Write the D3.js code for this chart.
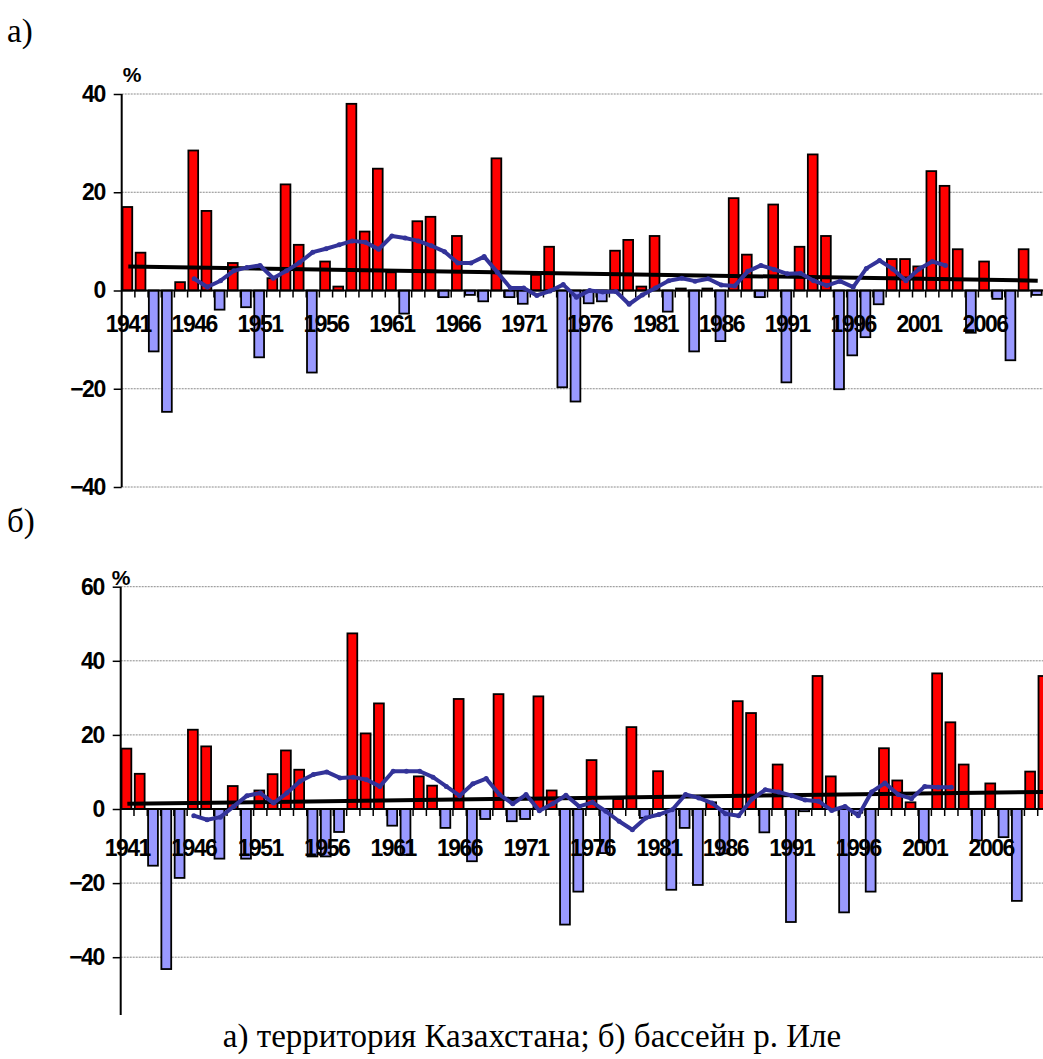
<!DOCTYPE html>
<html>
<head>
<meta charset="utf-8">
<script src="https://cdn.jsdelivr.net/npm/d3@7"></script>
<style>
	body { margin: 0; background: #fff; }
	svg { display: block; }
	text { font-family: "Liberation Sans", Arial, sans-serif; }
</style>
</head>
<body>
<script>
// years on the category axis
let years = d3.range(1941, 2011)
let yearLabels = [1941, 1946, 1951, 1956, 1961, 1966, 1971, 1976, 1981, 1986, 1991, 1996, 2001, 2006]

// а) территория Казахстана, anomaly %
let kazAnom = [17.0, 7.7, -12.4, -24.7, 1.7, 28.5, 16.2, -3.9, 5.6, -3.4,
	-13.6, 2.5, 21.6, 9.3, -16.7, 5.9, 0.8, 38.0, 12.0, 24.8,
	3.7, -4.7, 14.1, 15.0, -1.35, 11.1, -0.9, -2.2, 26.9, -1.35,
	-2.7, 3.2, 8.9, -19.7, -22.6, -2.6, -2.2, 8.1, 10.3, 0.8,
	11.1, -4.3, 0.4, -12.4, 0.4, -10.3, 18.8, 7.3, -1.35, 17.5,
	-18.7, 8.9, 27.7, 11.1, -20.1, -13.2, -9.5, -2.8, 6.4, 6.4,
	4.9, 24.3, 21.3, 8.4, -8.6, 5.9, -1.7, -14.2, 8.4, -0.9]
// moving average, 1946..2003
let kazMA = [2.4, 0.7, 2.0, 4.0, 4.7, 5.1, 2.5, 4.0, 5.7, 7.8,
	8.5, 9.3, 10.1, 9.8, 8.4, 11.1, 10.7, 10.1, 9.1, 7.9,
	5.6, 5.6, 6.9, 3.7, 0.5, 0.5, -1.0, -0.1, 1.2, -1.35,
	0, -0.3, -0.2, -2.8, -0.9, 0.5, 2.0, 2.5, 1.9, 2.4,
	1.1, 0.9, 3.9, 5.1, 4.3, 3.4, 3.5, 2.0, 1.0, 1.9,
	0.7, 4.5, 6.1, 4.4, 2.0, 4.4, 5.9, 5.1]
let kazTrend = [4.9, 2.0] // 1941 -> 2010

// б) бассейн р. Иле, anomaly %
let ileAnom = [16.3, 9.5, -15.3, -43.2, -18.6, 21.4, 16.9, -13.4, 6.2, -13.4,
	5.0, 9.4, 15.8, 10.6, -12.8, -12.8, -6.2, 47.4, 20.4, 28.5,
	-4.5, -12.4, 8.8, 6.3, -5.1, 29.7, -14.1, -2.7, 31.0, -3.3,
	-2.7, 30.4, 5.0, -31.2, -22.3, 13.2, -11.9, 2.7, 22.1, -2.4,
	10.2, -21.8, -5.1, -20.5, 1.8, -12.0, 29.1, 25.9, -6.3, 12.0,
	-30.5, -0.6, 35.9, 8.8, -27.9, -1.0, -22.3, 16.4, 7.7, 1.8,
	-9.0, 36.6, 23.4, 12.0, -8.5, 6.9, -7.6, -24.8, 10.1, 35.9]
let ileMA = [-1.8, -2.9, -2.2, 0.7, 3.6, 4.3, 1.6, 4.3, 7.5, 9.3,
	10.0, 8.4, 8.6, 7.9, 6.1, 10.2, 10.2, 10.2, 8.6, 6.1,
	3.6, 6.8, 8.2, 3.9, 1.4, 3.9, -0.5, 1.4, 3.7, 0.7,
	1.8, -0.6, -3.3, -5.6, -2.4, -1.5, -0.2, 3.9, 3.0, 1.6,
	-1.3, -1.8, 2.7, 5.2, 4.6, 3.6, 2.4, 2.1, -0.4, 0.7,
	-1.8, 4.6, 7.0, 3.9, 2.8, 6.1, 5.9, 5.9]
let ileTrend = [1.4, 4.6]

let maStart = 1946
let topTicks = [40, 20, 0, -20, -40]
let bottomTicks = [60, 40, 20, 0, -20, -40]

const W = 1043, H = 1059
let svg = d3.select('body').append('svg').attr('width', W).attr('height', H)

let boldLabel = function(sel) {
	sel.style('font-size', '23px').style('font-weight', 'bold').style('letter-spacing', '-1.5px')
		.style('font-family', '"Liberation Sans", Arial, sans-serif')
}

let drawPanel = function(opt) {
	let g = svg.append('g')
	let x = d3.scaleBand().domain(years).range([opt.x0, opt.x0 + opt.bw * years.length]).padding(0)
	let bw = x.bandwidth()
	let y = d3.scaleLinear().domain(opt.yDomain).range(opt.yRange)
	let y0 = y(0)

	// dotted gridlines
	g.selectAll('line.grid').data(opt.ticks.filter(t => t !== 0)).join('line')
		.attr('class', 'grid')
		.attr('x1', opt.x0).attr('x2', W)
		.attr('y1', d => y(d)).attr('y2', d => y(d))
		.attr('stroke', '#8a8a8a').attr('stroke-width', 1).attr('stroke-dasharray', '2,1')

	// bars
	g.selectAll('rect').data(opt.values).join('rect')
		.attr('x', (d, i) => x(years[i]) + bw * 0.06)
		.attr('width', bw * 0.74)
		.attr('y', d => d >= 0 ? y(d) : y0)
		.attr('height', d => Math.abs(y(d) - y0))
		.attr('fill', d => d >= 0 ? '#ff0000' : '#9999ff')
		.attr('stroke', '#000').attr('stroke-width', 1.8)

	// y axis
	let yAxis = d3.axisLeft(y).tickValues(opt.ticks).tickSize(8).tickPadding(9)
	let ya = g.append('g').attr('transform', `translate(${opt.x0},0)`).call(yAxis)
	ya.select('.domain').attr('stroke', '#000').attr('stroke-width', 2)
		.attr('d', `M0,${opt.yRange[1]}V${opt.axisBottom}`)
	ya.selectAll('.tick line').attr('stroke', '#000').attr('stroke-width', 1.5)
	ya.selectAll('.tick text').attr('fill', '#000').call(boldLabel)

	// x axis on zero line, tick marks between categories
	let xa = g.append('g')
	xa.selectAll('line.tk').data(years.slice(1)).join('line')
		.attr('class', 'tk')
		.attr('x1', d => x(d)).attr('x2', d => x(d))
		.attr('y1', y0).attr('y2', y0 + 7)
		.attr('stroke', '#000').attr('stroke-width', 1.5)
	xa.append('line').attr('x1', opt.x0).attr('x2', W)
		.attr('y1', y0).attr('y2', y0)
		.attr('stroke', '#000').attr('stroke-width', 2)
	xa.selectAll('text').data(yearLabels).join('text')
		.attr('x', d => x(d) + bw / 2)
		.attr('y', y0 + opt.labelDy)
		.attr('text-anchor', 'middle')
		.call(boldLabel)
		.text(d => d)

	// trend
	let first = years[0], last = years[years.length - 1]
	g.append('line')
		.attr('x1', x(first) + bw / 2).attr('x2', x(last) + bw / 2)
		.attr('y1', y(opt.trend[0])).attr('y2', y(opt.trend[1]))
		.attr('stroke', '#000').attr('stroke-width', 4)

	// moving average
	let ma = opt.ma.map((v, i) => [maStart + i, v])
	g.append('path').datum(ma)
		.attr('fill', 'none').attr('stroke', '#333399').attr('stroke-width', 4)
		.attr('stroke-linejoin', 'round')
		.attr('d', d3.line().x(d => x(d[0]) + bw / 2).y(d => y(d[1])))
	g.selectAll('circle').data(ma).join('circle')
		.attr('cx', d => x(d[0]) + bw / 2).attr('cy', d => y(d[1]))
		.attr('r', 2.5).attr('fill', '#333399')

	// unit
	g.append('text').attr('x', opt.pct[0]).attr('y', opt.pct[1])
		.attr('text-anchor', 'middle')
		.style('font-size', '21px').style('font-weight', 'bold')
		.text('%')
}

drawPanel({
	x0: 121.7, bw: 13.18,
	yDomain: [-40, 40], yRange: [487, 94], axisBottom: 487,
	ticks: topTicks, values: kazAnom, ma: kazMA, trend: kazTrend,
	labelDy: 41, pct: [132, 82]
})

drawPanel({
	x0: 120.7, bw: 13.29,
	yDomain: [-55.6, 60], yRange: [1015, 586.7], axisBottom: 1015,
	ticks: bottomTicks, values: ileAnom, ma: ileMA, trend: ileTrend,
	labelDy: 47, pct: [121, 585]
})

// panel letters and caption
let serif = '"Liberation Serif", "Times New Roman", serif'
svg.append('text').attr('x', 7).attr('y', 42)
	.style('font-family', serif).style('font-size', '33px').text('а)')
svg.append('text').attr('x', 7).attr('y', 532)
	.style('font-family', serif).style('font-size', '33px').text('б)')
svg.append('text').attr('x', 532).attr('y', 1047)
	.attr('text-anchor', 'middle')
	.style('font-family', serif).style('font-size', '33px')
	.text('а) территория Казахстана; б) бассейн р. Иле')
</script>
</body>
</html>
